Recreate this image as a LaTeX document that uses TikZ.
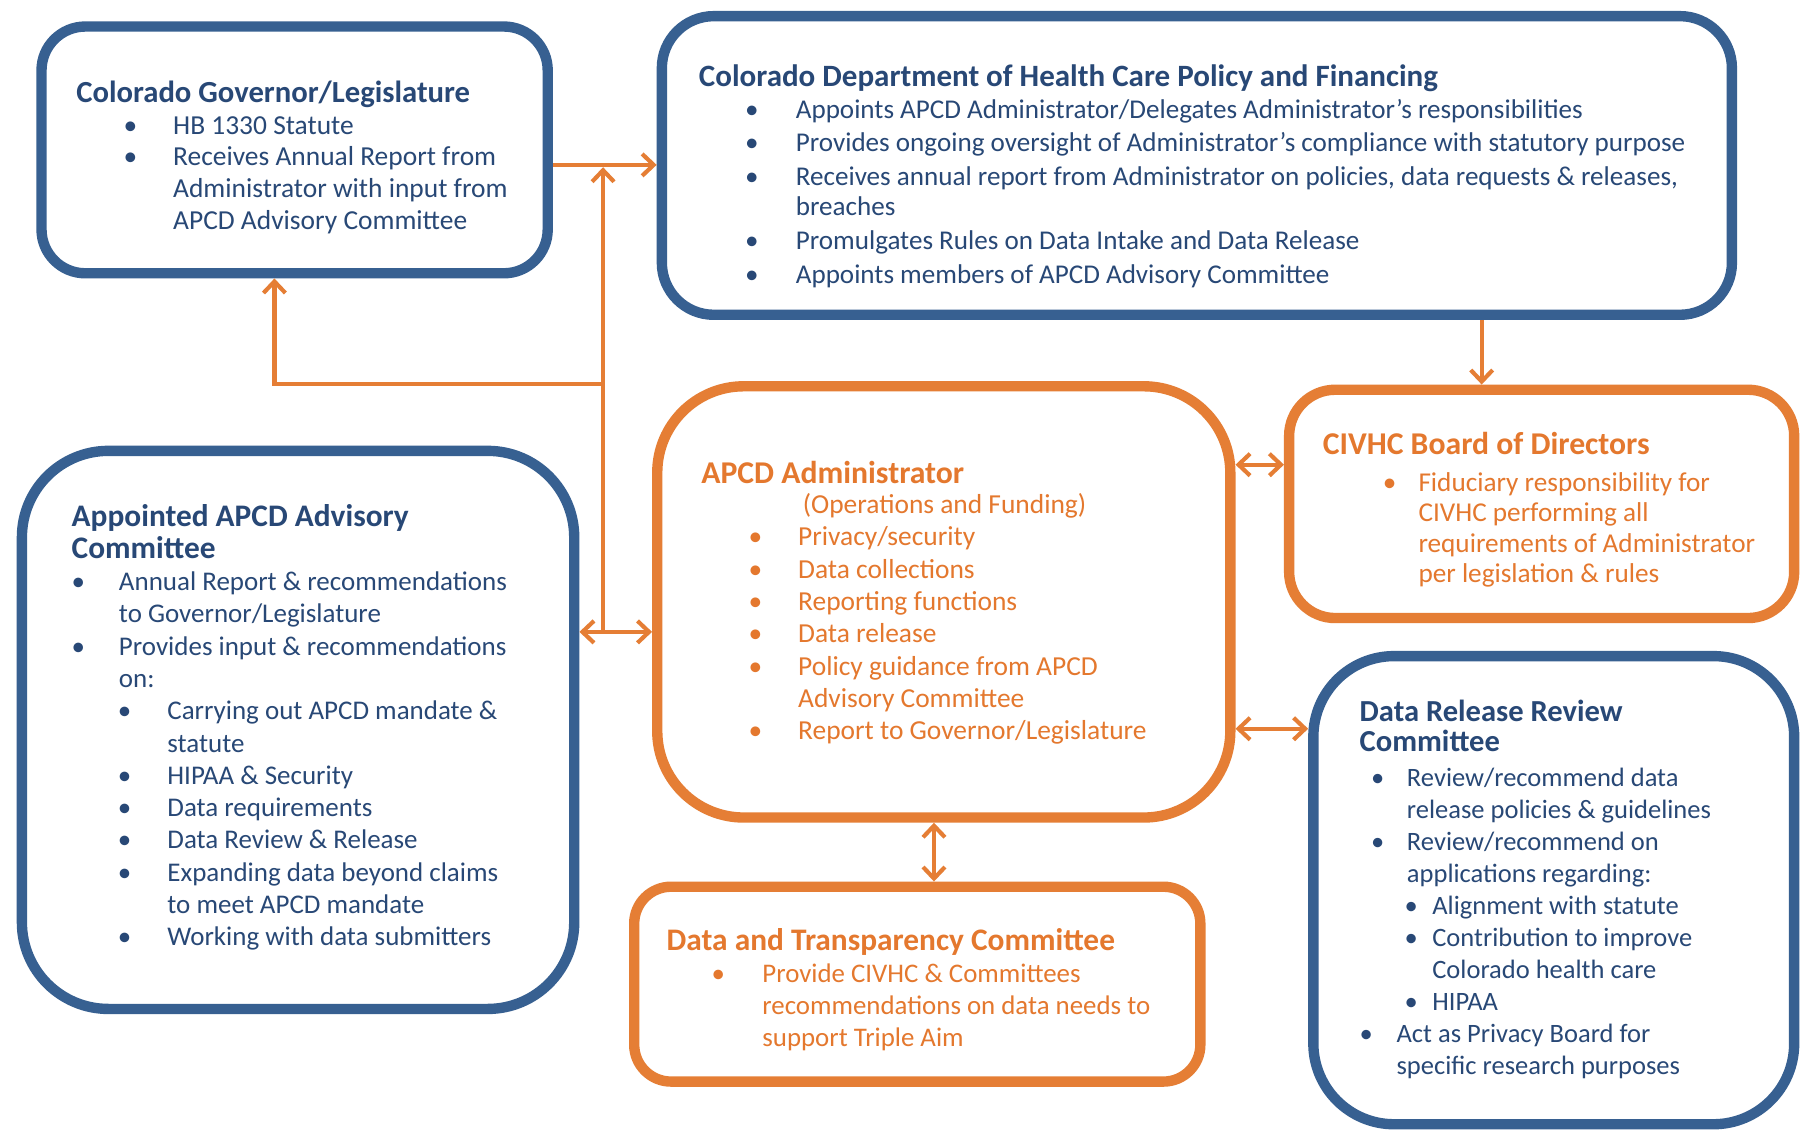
\documentclass[tikz,border=0pt]{standalone}
\usepackage{fontspec}
\setmainfont{Carlito}
\usetikzlibrary{arrows.meta}
\definecolor{bbox}{RGB}{55,96,145}
\definecolor{btext}{RGB}{40,72,118}
\definecolor{obox}{RGB}{229,126,53}
\definecolor{otext}{RGB}{228,120,46}
\newcommand\bul[2]{\hspace*{#1}\makebox[#2][l]{\textbullet}}
\newcommand\cnt[1]{\hspace*{#1}}
\newcommand\ttl[2][26.5]{{\fontsize{#1}{27}\selectfont\bfseries #2}}
\begin{document}
\begin{tikzpicture}[x=1pt,y=-1pt,
  bluebox/.style={draw=bbox, line width=9pt, rounded corners=#1, inner sep=0pt, fill=white},
  orangebox/.style={draw=obox, line width=9pt, rounded corners=#1, inner sep=0pt, fill=white},
  txt/.style={anchor=north west, inner sep=0pt, align=left},
  btxt/.style={txt, text=btext},
  otxt/.style={txt, text=otext},
  conn/.style={draw=obox, line width=3.6pt, -{Straight Barb[length=10pt,width=19pt]}},
  conn2/.style={draw=obox, line width=3.6pt, {Straight Barb[length=10pt,width=19pt]}-{Straight Barb[length=10pt,width=19pt]}}]
\useasboundingbox (0,0) rectangle (1568,980);
\fill[white] (0,0) rectangle (1568,980);
% boxes
\node[bluebox=38pt, minimum width=439pt, minimum height=214pt] (gov) at (255.5,130) {};
\node[bluebox=45pt, minimum width=928pt, minimum height=259pt] (dept) at (1038,143.5) {};
\node[orangebox=75pt, minimum width=497pt, minimum height=374pt] (admin) at (818.5,522) {};
\node[orangebox=40pt, minimum width=438pt, minimum height=198pt] (civ) at (1337,437) {};
\node[bluebox=75pt, minimum width=479pt, minimum height=484pt] (adv) at (258.5,633) {};
\node[orangebox=32pt, minimum width=491pt, minimum height=169pt] (dtc) at (795.5,853.5) {};
\node[bluebox=70pt, minimum width=417pt, minimum height=406pt] (drrc) at (1347.5,772) {};
% connectors
\coordinate (ya) at (0,143);
\coordinate (jtop) at (523,145);
\coordinate (jmid) at (523,333);
\coordinate (jbot) at (523,548);
\coordinate (gl) at (238,333);
\coordinate (xc) at (1285,0);
\coordinate (yc) at (0,403);
\coordinate (yd) at (0,632);
\coordinate (xd) at (810,0);
\draw[conn] (gov.east |- ya) -- (dept.west |- ya);
\draw[conn] (jbot) -- (jtop);
\draw[conn] (jmid) -- (gl) -- (gov.south -| gl);
\draw[conn2] (adv.east |- jbot) -- (admin.west |- jbot);
\draw[conn] (dept.south -| xc) -- (civ.north -| xc);
\draw[conn2] (admin.east |- yc) -- (civ.west |- yc);
\draw[conn2] (admin.east |- yd) -- (drrc.west |- yd);
\draw[conn2] (admin.south -| xd) -- (dtc.north -| xd);
% texts
\node[btxt, font=\fontsize{23.8}{27.5}\selectfont] (govtxt) at (66,70) {%
\ttl[26.6]{Colorado Governor/Legislature}\\
\bul{41pt}{43pt}HB 1330 Statute\\
\bul{41pt}{43pt}Receives Annual Report from\\
\cnt{84pt}Administrator with input from\\
\cnt{84pt}APCD Advisory Committee};
\node[btxt, font=\fontsize{23.5}{29.3}\selectfont] (depttxt) at (606,56) {%
\ttl[26.9]{Colorado Department of Health Care Policy and Financing}\\[-2pt]
\bul{40pt}{44pt}Appoints APCD Administrator/Delegates Administrator’s responsibilities\\
\bul{40pt}{44pt}Provides ongoing oversight of Administrator’s compliance with statutory purpose\\
\bul{40pt}{44pt}Receives annual report from Administrator on policies, data requests \& releases,\\[-3pt]
\cnt{84pt}breaches\\
\bul{40pt}{44pt}Promulgates Rules on Data Intake and Data Release\\
\bul{40pt}{44pt}Appoints members of APCD Advisory Committee};
\node[otxt, font=\fontsize{23.6}{26.5}\selectfont] (civtxt) at (1147,375) {%
\ttl[27.5]{CIVHC Board of Directors}\\[5pt]
\bul{52pt}{31pt}Fiduciary responsibility for\\
\cnt{83pt}CIVHC performing all\\
\cnt{83pt}requirements of Administrator\\
\cnt{83pt}per legislation \& rules};
\node[otxt, font=\fontsize{23.8}{28}\selectfont] (admintxt) at (608,400) {%
\ttl[27.5]{APCD Administrator}\\[-2pt]
\cnt{88pt}(Operations and Funding)\\
\bul{41pt}{43pt}Privacy/security\\
\bul{41pt}{43pt}Data collections\\
\bul{41pt}{43pt}Reporting functions\\
\bul{41pt}{43pt}Data release\\
\bul{41pt}{43pt}Policy guidance from APCD\\
\cnt{84pt}Advisory Committee\\
\bul{41pt}{43pt}Report to Governor/Legislature};
\node[btxt, font=\fontsize{23.4}{28}\selectfont] (advtxt) at (62,437) {%
\ttl[27.2]{Appointed APCD Advisory}\\
\ttl[27.2]{Committee}\\
\bul{0pt}{41pt}Annual Report \& recommendations\\
\cnt{41pt}to Governor/Legislature\\
\bul{0pt}{41pt}Provides input \& recommendations\\
\cnt{41pt}on:\\
\bul{40pt}{43pt}Carrying out APCD mandate \&\\
\cnt{83pt}statute\\
\bul{40pt}{43pt}HIPAA \& Security\\
\bul{40pt}{43pt}Data requirements\\
\bul{40pt}{43pt}Data Review \& Release\\
\bul{40pt}{43pt}Expanding data beyond claims\\
\cnt{83pt}to meet APCD mandate\\
\bul{40pt}{43pt}Working with data submitters};
\node[otxt, font=\fontsize{23.3}{27.7}\selectfont] (dtctxt) at (578,805) {%
\ttl[27.2]{Data and Transparency Committee}\\
\bul{39pt}{44pt}Provide CIVHC \& Committees\\
\cnt{83pt}recommendations on data needs to\\
\cnt{83pt}support Triple Aim};
\node[btxt, font=\fontsize{23}{27.7}\selectfont] (drrctxt) at (1179,607) {%
\ttl{Data Release Review}\\[-2pt]
\ttl{Committee}\\[3pt]
\bul{10pt}{31pt}Review/recommend data\\
\cnt{41pt}release policies \& guidelines\\
\bul{10pt}{31pt}Review/recommend on\\
\cnt{41pt}applications regarding:\\
\bul{39pt}{24pt}Alignment with statute\\
\bul{39pt}{24pt}Contribution to improve\\
\cnt{63pt}Colorado health care\\
\bul{39pt}{24pt}HIPAA\\
\bul{0pt}{32pt}Act as Privacy Board for\\
\cnt{32pt}specific research purposes};
\end{tikzpicture}
\end{document}
